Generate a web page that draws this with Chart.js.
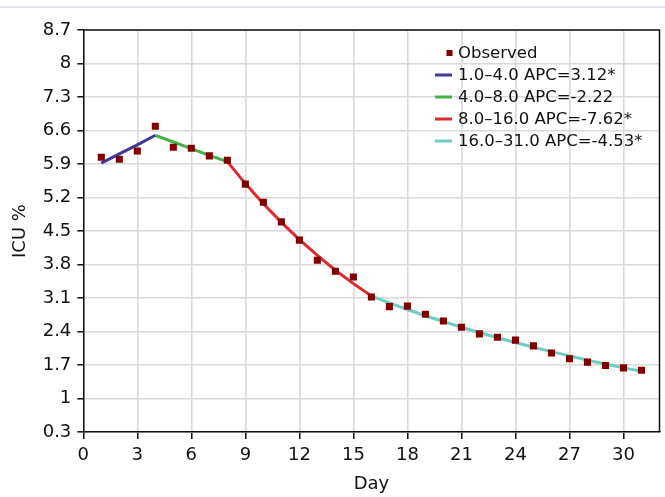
<!DOCTYPE html>
<html>
<head>
<meta charset="utf-8">
<script src="https://cdn.jsdelivr.net/npm/chart.js@4.4.1/dist/chart.umd.min.js"></script>
<style>
  html, body { margin: 0; padding: 0; background: #fff; }
  #wrap { position: relative; width: 665px; height: 497px; }
  #topline { position: absolute; left: 0; top: 6px; width: 665px; height: 2px; background: #e3e3f1; }
  canvas { position: absolute; left: 0; top: 0; }
</style>
</head>
<body>
<div id="wrap">
  <div id="topline"></div>
  <canvas id="chartICU" width="665" height="497"></canvas>
</div>
<script>
// dati
const days = [1, 2, 3, 4, 5, 6, 7, 8, 9, 10, 11, 12, 13, 14, 15, 16, 17, 18, 19, 20, 21, 22, 23, 24, 25, 26, 27, 28, 29, 30, 31];
const observed = [6.04, 6.00, 6.17, 6.69, 6.25, 6.23, 6.07, 5.98, 5.48, 5.10, 4.69, 4.31, 3.89, 3.66, 3.54, 3.12,
                  2.92, 2.93, 2.76, 2.62, 2.49, 2.35, 2.28, 2.22, 2.10, 1.95, 1.83, 1.76, 1.69, 1.64, 1.59];
const fitted = [5.92, 6.11, 6.30, 6.50, 6.36, 6.22, 6.08, 5.95, 5.49, 5.07, 4.68, 4.32, 3.99, 3.68, 3.40, 3.14,
                3.00, 2.86, 2.73, 2.61, 2.49, 2.38, 2.27, 2.17, 2.07, 1.98, 1.89, 1.80, 1.72, 1.64, 1.57];
const joinpoints = [1, 4, 8, 16, 31];
const segmentLabels = ["1.0–4.0 APC=3.12*", "4.0–8.0 APC=-2.22", "8.0–16.0 APC=-7.62*", "16.0–31.0 APC=-4.53*"];
const segmentColors = ["#3d3a9a", "#3fb24a", "#dc2a2e", "#6ccdc4"];
const xMin = 0, xMax = 32, xStep = 3;
const yMin = 0.3, yMax = 8.7, yStep = 0.7;

const FONT = "'DejaVu Sans', Verdana, sans-serif";
Chart.defaults.font.family = FONT;
Chart.defaults.color = "#111";

function buildDatasets() {
    const sets = [{
        label: "Observed",
        data: days.map((d, i) => ({ x: d, y: observed[i] })),
        showLine: false,
        pointStyle: "rect",
        pointRadius: 5,
        pointHoverRadius: 5,
        pointBorderWidth: 0,
        backgroundColor: "#800000",
        borderColor: "#800000"
    }];
    for (let s = 0; s < segmentLabels.length; s++) {
        const from = days.indexOf(joinpoints[s]);
        const to = days.indexOf(joinpoints[s + 1]);
        const pts = [];
        for (let i = from; i <= to; i++) pts.push({ x: days[i], y: fitted[i] });
        sets.push({
            label: segmentLabels[s],
            data: pts,
            borderColor: segmentColors[s],
            backgroundColor: segmentColors[s],
            borderWidth: 3,
            pointRadius: 0,
            tension: 0
        });
    }
    return sets;
}

// cornice del grafico (lati alto e destro)
const plotFrame = {
    id: "plotFrame",
    beforeDatasetsDraw(chart) {
        const { ctx, chartArea: a } = chart;
        ctx.save();
        ctx.strokeStyle = "#111";
        ctx.lineWidth = 1.5;
        ctx.beginPath();
        ctx.moveTo(a.left, a.top);
        ctx.lineTo(a.right, a.top);
        ctx.lineTo(a.right, a.bottom);
        ctx.stroke();
        ctx.restore();
    }
};

// legenda dentro l'area del grafico, senza riquadro
const inPlotLegend = {
    id: "inPlotLegend",
    afterDraw(chart) {
        const { ctx, chartArea: a } = chart;
        const x0 = a.right - 224.5;
        let y = a.top + 23;
        ctx.save();
        ctx.font = "16.5px " + FONT;
        ctx.textBaseline = "middle";
        chart.data.datasets.forEach(function (ds) {
            if (ds.showLine === false) {
                ctx.fillStyle = ds.backgroundColor;
                ctx.fillRect(x0 + 11.5, y - 3, 6, 6);
            } else {
                ctx.strokeStyle = ds.borderColor;
                ctx.lineWidth = 3;
                ctx.beginPath();
                ctx.moveTo(x0, y);
                ctx.lineTo(x0 + 17, y);
                ctx.stroke();
            }
            ctx.fillStyle = "#111";
            ctx.fillText(ds.label, x0 + 23, y + 1);
            y += 22;
        });
        ctx.restore();
    }
};

new Chart(document.getElementById("chartICU"), {
    type: "line",
    data: { datasets: buildDatasets() },
    options: {
        responsive: false,
        animation: false,
        devicePixelRatio: 1,
        layout: { padding: { top: 30, right: 5.5, left: 0, bottom: 0 } },
        plugins: { legend: { display: false }, tooltip: { enabled: false } },
        scales: {
            x: {
                type: "linear",
                min: xMin, max: xMax,
                afterFit: function (scale) { scale.height = 65; },
                border: { color: "#111", width: 1.5 },
                grid: { color: "#d9d9d9", lineWidth: 1.6, tickColor: "#111", tickLength: 7, tickWidth: 1.5 },
                ticks: { stepSize: xStep, includeBounds: false, maxRotation: 0, autoSkip: false, padding: 6, font: { size: 18 }, color: "#111" },
                title: { display: true, text: "Day", font: { size: 18 }, color: "#111", padding: { top: 0, bottom: 2 } }
            },
            y: {
                type: "linear",
                min: yMin, max: yMax,
                afterFit: function (scale) { scale.width = 83.3; },
                border: { color: "#111", width: 1.5 },
                grid: { color: "#d9d9d9", lineWidth: 1.6, tickColor: "#111", tickLength: 6, tickWidth: 1.5 },
                ticks: {
                    stepSize: yStep, autoSkip: false, padding: 6, font: { size: 18 }, color: "#111",
                    callback: function (value) { return String(Number(value.toFixed(1))); }
                },
                title: { display: true, text: "ICU %", font: { size: 18 }, color: "#111", padding: { top: 10, bottom: 0 } }
            }
        }
    },
    plugins: [plotFrame, inPlotLegend]
});
</script>
</body>
</html>
